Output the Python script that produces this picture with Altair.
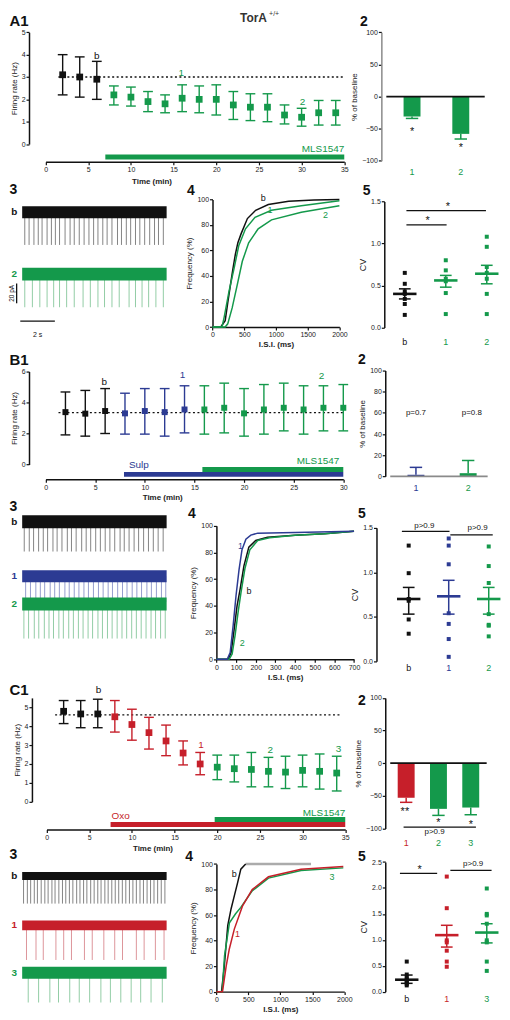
import altair as alt
import pandas as pd

FONT = "Liberation Sans"
GREEN = "#14994b"
BLUE = "#2c3b93"
RED = "#c61f2a"
BLACK = "#111111"
GRAY = "#ababab"
PHASE_COLOR = {"b": BLACK, "s": BLUE, "o": RED, "m": GREEN}

# ======================= A : TorA +/+ =======================
A1_TIME = [2, 4, 6, 8, 10, 12, 14, 16, 18, 20, 22, 24, 26, 28, 30, 32, 34]
A1_MEAN = [3.1, 3.0, 2.9, 2.2, 2.1, 1.9, 1.8, 2.05, 2.0, 2.0, 1.75, 1.65, 1.65, 1.3, 1.2, 1.4, 1.4]
A1_LOW = [2.2, 2.1, 2.0, 1.75, 1.7, 1.45, 1.4, 1.45, 1.4, 1.3, 1.1, 1.05, 1.0, 0.9, 0.8, 0.85, 0.85]
A1_HIGH = [4.0, 3.9, 3.7, 2.6, 2.55, 2.35, 2.2, 2.65, 2.6, 2.65, 2.35, 2.25, 2.25, 1.75, 1.6, 1.95, 1.95]
A1_PHASE = ["b"] * 3 + ["m"] * 14
A1_BASELINE = 3.0
A1_BASE_SPAN = [1.5, 35]
A1_POINT_LABELS = [("b", 6.0, 3.95, BLACK), ("1", 15.9, 3.2, GREEN), ("2", 30.1, 1.9, GREEN)]
A1_DRUGS = [("MLS1547", 7.0, 35.0, GREEN)]

A2_CATS = [1, 2]
A2_PCT = [-31, -58]
A2_ERR_END = [-34, -66]
A2_COLORS = [GREEN, GREEN]
A2_NOTES = [("*", 1, -49), ("*", 2, -74)]

A3_SPIKES_B = [0.15, 0.40, 0.68, 0.93, 1.15, 1.44, 1.69, 1.92, 2.16, 2.48, 2.77, 3.01, 3.30, 3.58,
               3.86, 4.13, 4.38, 4.66, 4.91, 5.19, 5.51, 5.74, 6.02, 6.27, 6.55, 6.80, 7.08, 7.37,
               7.65, 7.88, 8.16]
A3_SPIKES_2 = [0.15, 0.59, 1.02, 1.44, 1.82, 2.16, 2.57, 3.01, 3.52, 3.94, 4.38, 4.76, 5.19, 5.61,
               6.18, 6.55, 6.93, 7.31, 7.73, 8.16]

A4_B_MS = [0, 130, 200, 240, 280, 320, 360, 400, 450, 550, 680, 880, 1200, 1600, 2000]
A4_B_PCT = [0, 0, 5, 19, 32, 45, 57, 66, 73, 85, 91.5, 96, 98.5, 99.5, 100]
A4_1_MS = [0, 150, 185, 260, 340, 415, 520, 670, 930, 1400, 2000]
A4_1_PCT = [0, 0, 8, 28, 46, 64, 77, 86, 91.5, 95, 99]
A4_2_MS = [0, 200, 240, 310, 390, 470, 570, 720, 930, 1400, 2000]
A4_2_PCT = [0, 0, 2.5, 15, 33, 51.5, 66, 77, 84, 90, 95]
A4_LABELS = [("b", 800, 101, BLACK), ("1", 905, 92, GREEN), ("2", 1780, 88, GREEN)]

A5_CV_B = [0.65, 0.52, 0.43, 0.40, 0.34, 0.28, 0.15]
A5_CV_1 = [0.80, 0.68, 0.58, 0.55, 0.41, 0.16]
A5_CV_2 = [1.08, 0.96, 0.72, 0.65, 0.58, 0.40, 0.16]
A5_MEAN = [0.40, 0.56, 0.64]
A5_SEM_LOW = [0.34, 0.48, 0.52]
A5_SEM_HIGH = [0.46, 0.62, 0.74]
A5_CATS = ["b", "1", "2"]
A5_COLORS = [BLACK, GREEN, GREEN]
A5_LINES = [(0.04, 1.02, 1.22), (0.04, 1.98, 1.39)]
A5_NOTES = [("*", 0.56, 1.31), ("*", 1.05, 1.48)]

# ======================= B : sulpiride =======================
B1_TIME = [2, 4, 6, 8, 10, 12, 14, 16, 18, 20, 22, 24, 26, 28, 30]
B1_MEAN = [3.38, 3.28, 3.45, 3.3, 3.45, 3.38, 3.55, 3.55, 3.66, 3.3, 3.55, 3.66, 3.55, 3.66, 3.66]
B1_LOW = [1.91, 1.83, 2.0, 1.96, 1.96, 1.83, 2.04, 1.96, 2.04, 1.83, 1.96, 2.17, 1.96, 2.17, 2.17]
B1_HIGH = [4.68, 4.78, 4.9, 4.6, 4.9, 4.9, 5.08, 5.08, 5.25, 4.9, 5.16, 5.25, 5.08, 5.08, 5.16]
B1_PHASE = ["b"] * 3 + ["s"] * 4 + ["m"] * 8
B1_BASELINE = 3.35
B1_BASE_SPAN = [1.3, 30]
B1_POINT_LABELS = [("b", 5.9, 5.3, BLACK), ("1", 13.8, 5.8, BLUE), ("2", 27.8, 5.7, GREEN)]
B1_DRUGS = [("Sulp", 7.9, 30.0, BLUE), ("MLS1547", 15.8, 30.0, GREEN)]

B2_CATS = [1, 2]
B2_PCT = [1.5, 3]
B2_ERR_END = [8.5, 15]
B2_COLORS = [BLUE, GREEN]
B2_NOTES = [("p=0.7", 1.0, 60), ("p=0.8", 2.07, 60)]

B3_SPIKES_B = [0.12, 0.41, 0.66, 0.95, 1.22, 1.47, 1.78, 2.02, 2.30, 2.61, 2.85, 3.12, 3.44, 3.70,
               3.96, 4.25, 4.52, 4.80, 5.07, 5.35, 5.66, 5.90, 6.18, 6.47, 6.73, 7.02, 7.30, 7.58,
               7.86, 8.15]
B3_SPIKES_1 = [0.20, 0.48, 0.79, 1.05, 1.30, 1.62, 1.88, 2.15, 2.47, 2.72, 3.01, 3.28, 3.57, 3.83,
               4.12, 4.41, 4.68, 4.97, 5.22, 5.52, 5.80, 6.06, 6.36, 6.63, 6.90, 7.21, 7.47, 7.76,
               8.05, 8.30]
B3_SPIKES_2 = [0.10, 0.37, 0.70, 0.96, 1.28, 1.55, 1.81, 2.12, 2.38, 2.69, 2.96, 3.25, 3.52, 3.81,
               4.07, 4.38, 4.64, 4.93, 5.20, 5.49, 5.77, 6.04, 6.33, 6.60, 6.88, 7.16, 7.45, 7.71,
               8.00, 8.27]

B4_B_MS = [0, 60, 75, 90, 105, 120, 140, 165, 200, 260, 400, 550, 700]
B4_B_PCT = [0, 0, 5, 22, 40, 52, 70, 84, 89, 91.5, 93, 94, 96]
B4_1_MS = [0, 55, 70, 85, 100, 115, 130, 150, 175, 210, 400, 700]
B4_1_PCT = [0, 0, 5, 25, 48, 67, 82, 90, 93, 94.5, 95, 96]
B4_2_MS = [0, 65, 80, 95, 110, 125, 145, 170, 210, 270, 400, 550, 700]
B4_2_PCT = [0, 0, 4, 18, 35, 50, 68, 82, 89, 91, 93, 94, 96]
B4_LABELS = [("1", 122, 85, BLUE), ("b", 166, 51, BLACK), ("2", 132, 12, GREEN)]

B5_CV_B = [1.30, 0.99, 0.70, 0.68, 0.47, 0.31]
B5_CV_1 = [1.38, 1.30, 1.09, 0.54, 0.42, 0.25, 0.05]
B5_CV_2 = [1.29, 1.07, 0.88, 0.53, 0.41, 0.40, 0.28]
B5_MEAN = [0.70, 0.73, 0.70]
B5_SEM_LOW = [0.53, 0.53, 0.53]
B5_SEM_HIGH = [0.83, 0.91, 0.83]
B5_CATS = ["b", "1", "2"]
B5_COLORS = [BLACK, BLUE, GREEN]
B5_LINES = [(-0.17, 1.02, 1.46), (1.04, 2.1, 1.42)]
B5_NOTES = [("p>0.9", 0.39, 1.52), ("p>0.9", 1.72, 1.50)]

# ======================= C : oxotremorine =======================
C1_TIME = [2, 4, 6, 8, 10, 12, 14, 16, 18, 20, 22, 24, 26, 28, 30, 32, 34]
C1_MEAN = [4.79, 4.65, 4.65, 4.5, 4.09, 3.66, 3.22, 2.58, 2.0, 1.83, 1.75, 1.71, 1.61, 1.57, 1.66, 1.61, 1.52]
C1_LOW = [4.14, 3.92, 3.92, 3.69, 3.26, 2.79, 2.44, 1.95, 1.43, 1.17, 1.05, 0.79, 0.79, 0.70, 0.79, 0.67, 0.57]
C1_HIGH = [5.36, 5.36, 5.43, 5.36, 4.9, 4.47, 4.06, 3.22, 2.61, 2.47, 2.47, 2.61, 2.35, 2.41, 2.47, 2.53, 2.41]
C1_PHASE = ["b"] * 3 + ["o"] * 6 + ["m"] * 8
C1_BASELINE = 4.6
C1_BASE_SPAN = [1.0, 34.6]
C1_POINT_LABELS = [("b", 6.1, 5.9, BLACK), ("1", 18.1, 3.0, RED), ("2", 26.2, 2.75, GREEN),
                   ("3", 34.2, 2.8, GREEN)]
C1_DRUGS = [("Oxo", 7.5, 35.0, RED), ("MLS1547", 19.7, 35.0, GREEN)]

C2_CATS = [1, 2, 3]
C2_PCT = [-53, -70, -68]
C2_ERR_END = [-60, -80, -79]
C2_COLORS = [RED, GREEN, GREEN]
C2_NOTES = [("**", 0.96, -69), ("*", 2.0, -86), ("*", 3.0, -88)]
C2_BRACKET = (0.92, 3.16, -98)

C3_SPIKES_B = [0.08, 0.30, 0.49, 0.70, 0.88, 1.10, 1.31, 1.50, 1.72, 1.90, 2.12, 2.33, 2.52, 2.73,
               2.93, 3.15, 3.34, 3.55, 3.74, 3.96, 4.16, 4.37, 4.56, 4.78, 4.97, 5.18, 5.38, 5.58,
               5.79, 5.99, 6.20, 6.40, 6.60, 6.81, 7.01, 7.22, 7.42, 7.62, 7.83, 8.04, 8.25]
C3_SPIKES_1 = [0.25, 0.80, 1.22, 1.95, 2.40, 2.85, 3.60, 4.05, 4.72, 5.35, 5.80, 6.60, 7.05, 7.70, 8.20]
C3_SPIKES_3 = [0.35, 0.95, 1.60, 2.10, 2.75, 3.30, 3.90, 4.55, 5.10, 5.70, 6.30, 6.85, 7.45, 8.10]

C4_B_MS = [0, 80, 120, 178, 230, 280, 330, 382, 458]
C4_B_PCT = [0, 0, 18, 52, 65, 75, 85, 96, 100]
C4_BTAIL_MS = [458, 1480]
C4_BTAIL_PCT = [100, 100]
C4_1_MS = [0, 95, 153, 200, 280, 407, 560, 814, 1323, 1985]
C4_1_PCT = [0, 0, 20, 33, 49, 67, 80, 90, 96, 98]
C4_3_MS = [0, 90, 127, 204, 300, 382, 560, 814, 1323, 1985]
C4_3_PCT = [0, 0, 28, 54, 61, 66, 79, 89, 95, 97]
C4_LABELS = [("b", 279, 92, BLACK), ("1", 330, 45, RED), ("3", 1806, 90, GREEN)]

C5_CV_B = [0.58, 0.33, 0.28, 0.24, 0.21, 0.18, 0.15, 0.12]
C5_CV_1 = [2.22, 1.61, 0.99, 0.95, 0.79, 0.58, 0.48]
C5_CV_3 = [1.99, 1.50, 1.47, 1.31, 0.99, 0.95, 0.58, 0.40]
C5_MEAN = [0.23, 1.09, 1.14]
C5_SEM_LOW = [0.16, 0.86, 0.94]
C5_SEM_HIGH = [0.32, 1.28, 1.31]
C5_CATS = ["b", "1", "3"]
C5_COLORS = [BLACK, RED, GREEN]
C5_LINES = [(-0.17, 0.76, 2.28), (1.09, 2.12, 2.34)]
C5_NOTES = [("*", 0.32, 2.42), ("p>0.9", 1.66, 2.46)]

TRACE_END = 8.35

PANEL_LABELS = [("A1", 5, 21, 15), ("2", 364, 21, 14), ("3", 5, 191, 14), ("4", 187, 192, 14),
                ("5", 367, 192, 14), ("B1", 5, 363, 15), ("2", 362, 362, 14), ("3", 5, 511, 14),
                ("4", 188, 518, 14), ("5", 362, 518, 14), ("C1", 5, 697, 15), ("2", 362, 707, 14),
                ("3", 5, 863, 14), ("4", 185, 865, 14), ("5", 362, 865, 14)]
TIME_TITLES = [(151, 178), (162, 498), (152, 853)]

# ------------------- page geometry (reference pixel -> canvas pixel) -------------------
W, H = 494, 1004
OX, SX, OY, SY = 4.5, 0.98, 6.5, 0.993


def PX(r):
    return round((r - OX) * SX, 2)


def PY(r):
    return round((r - OY) * SY, 2)


def axis(**kw):
    d = dict(grid=False, labelFontSize=7, titleFontSize=8, tickSize=3, labelPadding=1,
             titlePadding=3, domainWidth=1.5, tickWidth=1.2, domainColor=BLACK,
             tickColor=BLACK, labelColor="#222222", titleColor="#222222",
             titleFontWeight="normal", labelFont=FONT, titleFont=FONT,
             labelFlush=False, labelOverlap=False)
    d.update(kw)
    return alt.Axis(**d)


def yaxis(values, title, at, **kw):
    return axis(orient="left", offset=-PX(at), values=values, title=title, **kw)


def xaxis(values, title, at, **kw):
    return axis(orient="bottom", offset=round(PY(at) - H, 2), values=values, title=title, **kw)


def xscale(dom, xr):
    return alt.Scale(domain=list(dom), range=[PX(xr[0]), PX(xr[1])], nice=False, zero=False)


def yscale(dom, yr):
    return alt.Scale(domain=list(dom), range=[PY(yr[0]), PY(yr[1])], nice=False, zero=False)


def note_layers(notes, X, Y, color=BLACK):
    out = []
    for s, x, y in notes:
        star = s.startswith("*")
        d = pd.DataFrame({"x": [x], "y": [y], "s": [s]})
        out.append(alt.Chart(d).mark_text(fontSize=11 if star else 8, dy=4 if star else 0,
                                          color=color, font=FONT)
                   .encode(x=X("x:Q"), y=Y("y:Q"), text="s:N"))
    return out


def timecourse(time, mean, low, high, phase, base_level, base_span, point_labels, drugs,
               bar_y, drug_labels, xmax, ydom, yticks, xr, yr, yax_at, xax_at, sq, extra=()):
    cap = 5 * xmax / (xr[1] - xr[0])
    df = pd.DataFrame({"t": time, "m": mean, "lo": low, "hi": high,
                       "c": [PHASE_COLOR[p] for p in phase]})
    xs = xscale([0, xmax], xr)
    ys = yscale(ydom, yr)
    xa = xaxis(list(range(0, xmax + 1, 5)), None, xax_at)
    ya = yaxis(yticks, "Firing rate (Hz)", yax_at)

    def X(f):
        return alt.X(f, scale=xs, axis=xa)

    def Y(f):
        return alt.Y(f, scale=ys, axis=ya)

    col = alt.Color("c:N", scale=None)
    base = alt.Chart(df)
    bl = pd.DataFrame({"a": [base_span[0]], "b": [base_span[1]], "y": [base_level]})
    layers = [
        alt.Chart(bl).mark_rule(strokeDash=[2, 2.5], strokeWidth=1.3, color=BLACK)
        .encode(x=X("a:Q"), x2="b:Q", y=Y("y:Q")),
        base.mark_rule(strokeWidth=1.4).encode(x=X("t:Q"), y=Y("lo:Q"), y2="hi:Q", color=col),
        base.transform_fold(["lo", "hi"], as_=["k", "v"])
        .transform_calculate(a=f"datum.t - {cap}", b=f"datum.t + {cap}")
        .mark_rule(strokeWidth=1.4).encode(x=X("a:Q"), x2="b:Q", y=Y("v:Q"), color=col),
        base.mark_square(size=sq, opacity=1).encode(x=X("t:Q"), y=Y("m:Q"), color=col),
    ]
    lab = pd.DataFrame(point_labels, columns=["s", "x", "y", "c"])
    layers.append(alt.Chart(lab).mark_text(fontSize=10, font=FONT)
                  .encode(x=X("x:Q"), y=Y("y:Q"), text="s:N", color=col))
    for (name, a, b, color), yref in zip(drugs, bar_y):
        d = pd.DataFrame({"a": [a], "b": [b]})
        layers.append(alt.Chart(d).mark_rule(strokeWidth=5, color=color)
                      .encode(x=X("a:Q"), x2="b:Q", y=alt.value(PY(yref))))
    for (name, a, b, color), (lx, align, yref) in zip(drugs, drug_labels):
        d = pd.DataFrame({"x": [lx], "s": [name]})
        layers.append(alt.Chart(d).mark_text(fontSize=10, align=align, color=color, font=FONT)
                      .encode(x=X("x:Q"), y=alt.value(PY(yref)), text="s:N"))
    layers.extend(extra)
    return alt.layer(*layers)


def bar_panel(cats, vals, err_end, colors, xdom, ydom, yticks, xr, yr, notes, label_y,
              domain_color=BLACK, zero_color=BLACK, extra_fn=None):
    cap = 7 * (xdom[1] - xdom[0]) / (xr[1] - xr[0])
    df = pd.DataFrame({"x": cats, "v": vals, "e": err_end, "c": colors})
    xs = xscale(xdom, xr)
    ys = yscale(ydom, yr)
    ya = yaxis(yticks, "% of baseline", xr[0], domainColor=domain_color)

    def X(f):
        return alt.X(f, scale=xs, axis=None)

    def Y(f):
        return alt.Y(f, scale=ys, axis=ya)

    col = alt.Color("c:N", scale=None)
    base = alt.Chart(df)
    zero = pd.DataFrame({"a": [xdom[0]], "b": [xdom[1]], "y": [0]})
    layers = [
        base.mark_rule(strokeWidth=1.5).encode(x=X("x:Q"), y=Y("v:Q"), y2="e:Q", color=col),
        base.transform_calculate(a=f"datum.x - {cap}", b=f"datum.x + {cap}")
        .mark_rule(strokeWidth=1.5).encode(x=X("a:Q"), x2="b:Q", y=Y("e:Q"), color=col),
        base.mark_bar(size=17, orient="vertical")
        .encode(x=X("x:Q"), y=Y("v:Q"), y2=alt.datum(0), color=col),
        alt.Chart(zero).mark_rule(strokeWidth=1.6, color=zero_color)
        .encode(x=X("a:Q"), x2="b:Q", y=Y("y:Q")),
    ]
    layers += note_layers(notes, X, Y)
    if extra_fn is not None:
        layers += extra_fn(X, Y)
    cl = pd.DataFrame({"x": cats, "s": [str(c) for c in cats], "c": colors})
    layers.append(alt.Chart(cl).mark_text(fontSize=9, font=FONT)
                  .encode(x=X("x:Q"), y=alt.value(PY(label_y)), text="s:N", color=col))
    return alt.layer(*layers)


def dot_panel(groups, means, lows, highs, colors, names, xdom, ydom, yticks, xr, yr,
              lines, notes, label_y):
    per = (xdom[1] - xdom[0]) / (xr[1] - xr[0])
    cap = 6 * per
    half = 12 * per
    pts = pd.DataFrame([{"x": i, "y": v, "c": colors[i]} for i, g in enumerate(groups) for v in g])
    st = pd.DataFrame({"x": list(range(len(means))), "m": means, "lo": lows, "hi": highs,
                       "c": colors})
    xs = xscale(xdom, xr)
    ys = yscale(ydom, yr)
    ya = yaxis(yticks, "CV", xr[0], format=".1f", titleFontSize=9)

    def X(f):
        return alt.X(f, scale=xs, axis=None)

    def Y(f):
        return alt.Y(f, scale=ys, axis=ya)

    col = alt.Color("c:N", scale=None)
    layers = [
        alt.Chart(pts).mark_square(size=16, opacity=1).encode(x=X("x:Q"), y=Y("y:Q"), color=col),
        alt.Chart(st).mark_rule(strokeWidth=1.5).encode(x=X("x:Q"), y=Y("lo:Q"), y2="hi:Q", color=col),
        alt.Chart(st).transform_fold(["lo", "hi"], as_=["k", "v"])
        .transform_calculate(a=f"datum.x - {cap}", b=f"datum.x + {cap}")
        .mark_rule(strokeWidth=1.5).encode(x=X("a:Q"), x2="b:Q", y=Y("v:Q"), color=col),
        alt.Chart(st).transform_calculate(a=f"datum.x - {half}", b=f"datum.x + {half}")
        .mark_rule(strokeWidth=2.6).encode(x=X("a:Q"), x2="b:Q", y=Y("m:Q"), color=col),
    ]
    ln = pd.DataFrame(lines, columns=["a", "b", "y"])
    layers.append(alt.Chart(ln).mark_rule(strokeWidth=1.2, color=BLACK)
                  .encode(x=X("a:Q"), x2="b:Q", y=Y("y:Q")))
    layers += note_layers(notes, X, Y)
    cl = pd.DataFrame({"x": list(range(len(names))), "s": names, "c": colors})
    layers.append(alt.Chart(cl).mark_text(fontSize=9, font=FONT)
                  .encode(x=X("x:Q"), y=alt.value(PY(label_y)), text="s:N", color=col))
    return alt.layer(*layers)


def cdf_panel(series, xmax, xticks, xr, yr, labels):
    xs = xscale([0, xmax], xr)
    ys = yscale([0, 100], yr)
    xa = xaxis(xticks, "I.S.I. (ms)", yr[0], titleFontWeight="bold", format="d")
    ya = yaxis([0, 20, 40, 60, 80, 100], "Frequency (%)", xr[0])

    def X(f):
        return alt.X(f, scale=xs, axis=xa)

    def Y(f):
        return alt.Y(f, scale=ys, axis=ya)

    layers = []
    for ms, pct, color, sw in series:
        d = pd.DataFrame({"ms": ms, "p": pct})
        layers.append(alt.Chart(d).mark_line(strokeWidth=sw, color=color)
                      .encode(x=X("ms:Q"), y=Y("p:Q"), order="ms:Q"))
    lab = pd.DataFrame(labels, columns=["s", "x", "y", "c"])
    layers.append(alt.Chart(lab).mark_text(fontSize=9, font=FONT)
                  .encode(x=X("x:Q"), y=Y("y:Q"), text="s:N", color=alt.Color("c:N", scale=None)))
    return alt.layer(*layers)


def trace_panel(traces, ydom, xr, yr, scalebar=False):
    xs = xscale([0, TRACE_END], xr)
    ys = yscale(ydom, yr)

    def X(f):
        return alt.X(f, scale=xs, axis=None)

    def Y(f):
        return alt.Y(f, scale=ys, axis=None)

    layers = []
    for name, spikes, base, amp, band, color, scol in traces:
        sp = pd.DataFrame({"t": spikes, "y0": [base] * len(spikes),
                           "y1": [base - amp] * len(spikes)})
        layers.append(alt.Chart(sp).mark_rule(strokeWidth=0.9, color=scol)
                      .encode(x=X("t:Q"), y=Y("y0:Q"), y2="y1:Q"))
        bd = pd.DataFrame({"a": [0.0], "b": [TRACE_END], "y": [base]})
        layers.append(alt.Chart(bd).mark_rule(strokeWidth=band, color=color)
                      .encode(x=X("a:Q"), x2="b:Q", y=Y("y:Q")))
        lb = pd.DataFrame({"y": [base], "s": [name]})
        layers.append(alt.Chart(lb).mark_text(fontSize=10, fontWeight="bold", color=color, font=FONT)
                      .encode(x=alt.value(PX(10)), y=Y("y:Q"), text="s:N"))
    if scalebar:
        v = pd.DataFrame({"x": [-0.32], "y0": [-80], "y1": [-100]})
        h = pd.DataFrame({"a": [-0.11], "b": [1.89], "y": [-118]})
        layers.append(alt.Chart(v).mark_rule(strokeWidth=1.3, color=BLACK)
                      .encode(x=X("x:Q"), y=Y("y0:Q"), y2="y1:Q"))
        layers.append(alt.Chart(h).mark_rule(strokeWidth=1.3, color=BLACK)
                      .encode(x=X("a:Q"), x2="b:Q", y=Y("y:Q")))
        layers.append(alt.Chart(pd.DataFrame({"y": [-90], "s": ["20 pA"]}))
                      .mark_text(fontSize=6.5, angle=270, color=BLACK, font=FONT)
                      .encode(x=alt.value(PX(7.5)), y=Y("y:Q"), text="s:N"))
        layers.append(alt.Chart(pd.DataFrame({"x": [0.89], "y": [-132], "s": ["2 s"]}))
                      .mark_text(fontSize=7, color=BLACK, font=FONT)
                      .encode(x=X("x:Q"), y=Y("y:Q"), text="s:N"))
    return alt.layer(*layers)


# ------------------------- panels -------------------------
tora = [
    alt.Chart(pd.DataFrame({"s": ["TorA"]}))
    .mark_text(fontSize=12, fontWeight="bold", color="#333", font=FONT, baseline="alphabetic")
    .encode(x=alt.value(PX(255)), y=alt.value(PY(17)), text="s:N"),
    alt.Chart(pd.DataFrame({"s": ["+/+"]}))
    .mark_text(fontSize=7, align="left", color="#333", font=FONT, baseline="alphabetic")
    .encode(x=alt.value(PX(271)), y=alt.value(PY(11)), text="s:N"),
]

A1 = timecourse(A1_TIME, A1_MEAN, A1_LOW, A1_HIGH, A1_PHASE, A1_BASELINE, A1_BASE_SPAN,
                A1_POINT_LABELS, A1_DRUGS, [153], [(35.0, "right", 145)],
                35, [0, 5], [0, 1, 2, 3, 4, 5], (42, 348), (140, 27), 25, 158, 46, extra=tora)
A2 = bar_panel(A2_CATS, A2_PCT, A2_ERR_END, A2_COLORS, [0.473, 2.491], [-100, 100],
               [-100, -50, 0, 50, 100], (386, 497), (157, 27), A2_NOTES, 168,
               domain_color="#8a8a8a")
A3 = trace_panel([("b", A3_SPIKES_B, -8, 33, 12, BLACK, "#777777"),
                  ("2", A3_SPIKES_2, -70.5, 33.5, 13, GREEN, "#86c79c")],
                 [-124, 5], (18, 166), (325, 196), scalebar=True)
A4 = cdf_panel([(A4_B_MS, A4_B_PCT, BLACK, 1.5), (A4_1_MS, A4_1_PCT, GREEN, 1.5),
                (A4_2_MS, A4_2_PCT, GREEN, 1.5)], 2000, [0, 500, 1000, 1500, 2000],
               (213, 343), (325, 196), A4_LABELS)
A5 = dot_panel([A5_CV_B, A5_CV_1, A5_CV_2], A5_MEAN, A5_SEM_LOW, A5_SEM_HIGH, A5_COLORS, A5_CATS,
               [-0.5, 2.119], [0, 1.5], [0, 0.5, 1.0, 1.5], (389, 499), (325.5, 198),
               A5_LINES, A5_NOTES, 340)

B1 = timecourse(B1_TIME, B1_MEAN, B1_LOW, B1_HIGH, B1_PHASE, B1_BASELINE, B1_BASE_SPAN,
                B1_POINT_LABELS, B1_DRUGS, [474, 469], [(8.4, "left", 465), (29.6, "right", 460)],
                30, [0, 6], [0, 2, 4, 6], (42, 347), (464, 370), 25, 479, 36)
B2 = bar_panel(B2_CATS, B2_PCT, B2_ERR_END, B2_COLORS, [0.508, 2.373], [0, 100],
               [0, 20, 40, 60, 80, 100], (390, 500), (476, 369), B2_NOTES, 488,
               zero_color="#8a8a8a")
B3 = trace_panel([("b", B3_SPIKES_B, 24, 30, 13, BLACK, "#777777"),
                  ("1", B3_SPIKES_1, -31, 26, 12, BLUE, "#8a93c8"),
                  ("2", B3_SPIKES_2, -59, 35, 13, GREEN, "#86c79c")],
                 [-115, 20], (18, 166), (661, 526))
B4 = cdf_panel([(B4_B_MS, B4_B_PCT, BLACK, 1.5), (B4_2_MS, B4_2_PCT, GREEN, 1.5),
                (B4_1_MS, B4_1_PCT, BLUE, 1.5)], 700, [0, 100, 200, 300, 400, 500, 600, 700],
               (217, 358), (661, 526), B4_LABELS)
B5 = dot_panel([B5_CV_B, B5_CV_1, B5_CV_2], B5_MEAN, B5_SEM_LOW, B5_SEM_HIGH, B5_COLORS, B5_CATS,
               [-0.805, 2.073], [0, 1.5], [0, 0.5, 1.0, 1.5], (381, 499), (663, 528),
               B5_LINES, B5_NOTES, 670)


def c2_bracket(X, Y):
    a, b, y = C2_BRACKET
    d = pd.DataFrame({"a": [a], "b": [b], "y": [y]})
    t = pd.DataFrame({"x": [1.88], "y": [-106], "s": ["p>0.9"]})
    return [alt.Chart(d).mark_rule(strokeWidth=1.2, color=BLACK)
            .encode(x=X("a:Q"), x2="b:Q", y=Y("y:Q")),
            alt.Chart(t).mark_text(fontSize=8, color=BLACK, font=FONT)
            .encode(x=X("x:Q"), y=Y("y:Q"), text="s:N")]


C1 = timecourse(C1_TIME, C1_MEAN, C1_LOW, C1_HIGH, C1_PHASE, C1_BASELINE, C1_BASE_SPAN,
                C1_POINT_LABELS, C1_DRUGS, [828, 823], [(7.6, "left", 819), (35.0, "right", 816)],
                35, [0, 5.5], [0, 1, 2, 3, 4, 5], (43, 349), (805, 700), 28, 833, 46)
C2 = bar_panel(C2_CATS, C2_PCT, C2_ERR_END, C2_COLORS, [0.507, 3.493], [-100, 100],
               [-100, -50, 0, 50, 100], (390, 499), (832, 700), C2_NOTES, 847,
               extra_fn=c2_bracket)
C3 = trace_panel([("b", C3_SPIKES_B, 7, 28, 8, BLACK, "#777777"),
                  ("1", C3_SPIKES_1, -43, 35, 10, RED, "#d98a8f"),
                  ("3", C3_SPIKES_3, -91, 30, 12, GREEN, "#86c79c")],
                 [-110, 21], (18, 166), (997, 866))
C4 = cdf_panel([(C4_BTAIL_MS, C4_BTAIL_PCT, GRAY, 2.5), (C4_B_MS, C4_B_PCT, BLACK, 1.5),
                (C4_3_MS, C4_3_PCT, GREEN, 1.5), (C4_1_MS, C4_1_PCT, RED, 1.5)],
               2000, [0, 500, 1000, 1500, 2000], (217, 348), (997, 868), C4_LABELS)
C5 = dot_panel([C5_CV_B, C5_CV_1, C5_CV_3], C5_MEAN, C5_SEM_LOW, C5_SEM_HIGH, C5_COLORS, C5_CATS,
               [-0.537, 2.122], [0, 2.5], [0, 0.5, 1.0, 1.5, 2.0, 2.5], (390, 499), (997, 866),
               C5_LINES, C5_NOTES, 1004)

labels = [
    alt.Chart(pd.DataFrame({"s": [t]}))
    .mark_text(fontSize=size, fontWeight="bold", align="left", baseline="alphabetic",
               color=BLACK, font=FONT)
    .encode(x=alt.value(PX(x)), y=alt.value(PY(y)), text="s:N")
    for t, x, y, size in PANEL_LABELS
]
time_titles = [
    alt.Chart(pd.DataFrame({"s": ["Time (min)"]}))
    .mark_text(fontSize=8, fontWeight="bold", color="#222222", font=FONT)
    .encode(x=alt.value(PX(x)), y=alt.value(PY(y)), text="s:N")
    for x, y in TIME_TITLES
]

chart = (
    alt.layer(A1, A2, A3, A4, A5, B1, B2, B3, B4, B5, C1, C2, C3, C4, C5, *labels, *time_titles)
    .resolve_scale(x="independent", y="independent")
    .properties(width=W, height=H, padding=0)
    .configure_view(stroke=None)
    .configure_text(font=FONT)
)

chart.save("out.html", embed_options={"renderer": "svg", "actions": False})
